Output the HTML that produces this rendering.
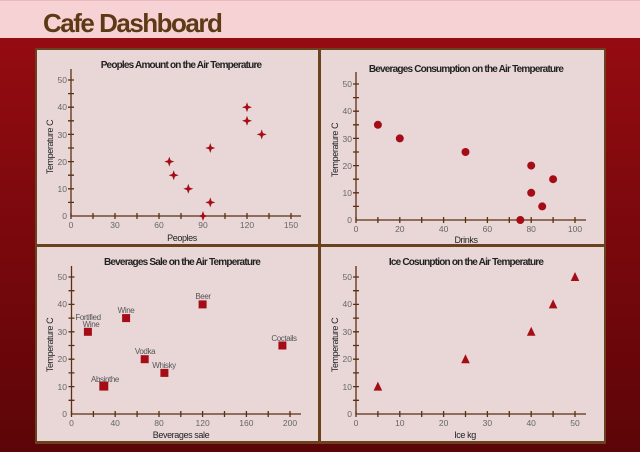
<!DOCTYPE html>
<html><head><meta charset="utf-8"><style>
html,body{margin:0;padding:0;width:640px;height:452px;overflow:hidden}
body{background:#7a0a0e;font-family:"Liberation Sans",sans-serif}
</style></head><body>
<svg width="640" height="452" viewBox="0 0 640 452" xmlns="http://www.w3.org/2000/svg" style="position:absolute;left:0;top:0">
<defs><linearGradient id="bg" x1="0" y1="0" x2="0" y2="1"><stop offset="0" stop-color="#9a0c12"/><stop offset="1" stop-color="#5c0508"/></linearGradient></defs>
<rect x="0" y="0" width="640" height="452" fill="url(#bg)"/>
<rect x="0" y="0" width="640" height="38" fill="#f7d2d4"/>
<rect x="0" y="0" width="640" height="1" fill="#e9b9bc"/>
<text x="43" y="32" font-size="26" font-weight="bold" fill="#5c3a16" letter-spacing="-1.5">Cafe Dashboard</text>
<rect x="35" y="48" width="571" height="396" fill="#6a4220"/>
<rect x="37" y="50" width="281" height="194" fill="#e9d7d8"/>
<rect x="321" y="50" width="283" height="194" fill="#e9d7d8"/>
<rect x="37" y="247" width="281" height="194" fill="#e9d7d8"/>
<rect x="321" y="247" width="283" height="194" fill="#e9d7d8"/>
<g font-size="10" font-weight="bold" fill="#222" text-anchor="middle" letter-spacing="-0.8">
<text x="181" y="68">Peoples Amount on the Air Temperature</text>
<text x="466" y="72">Beverages Consumption on the Air Temperature</text>
<text x="182" y="265">Beverages Sale on the Air Temperature</text>
<text x="466" y="265">Ice Cosunption on the Air Temperature</text>
</g>
<g font-size="9" fill="#222" text-anchor="middle" letter-spacing="-0.4">
<text x="182" y="241">Peoples</text>
<text x="466" y="243">Drinks</text>
<text x="181" y="438">Beverages sale</text>
<text x="465" y="438">Ice kg</text>
<text transform="translate(53,147) rotate(-90)">Temperature C</text>
<text transform="translate(338,150) rotate(-90)">Temperature C</text>
<text transform="translate(53,345) rotate(-90)">Temperature C</text>
<text transform="translate(338,345) rotate(-90)">Temperature C</text>
</g>
<g stroke="#5a3010" stroke-width="1.3" fill="none">
<path d="M71 69V216H301"/>
<path d="M68 80H74M68 93.6H74M68 107.2H74M68 120.8H74M68 134.4H74M68 148H74M68 161.6H74M68 175.2H74M68 188.8H74M68 202.4H74"/>
<path d="M71 213V219M93 213V219M115 213V219M137 213V219M159 213V219M181 213V219M203 213V219M225 213V219M247 213V219M269 213V219M291 213V219"/>
<path d="M356 72V220H586"/>
<path d="M353 84H359M353 97.6H359M353 111.2H359M353 124.8H359M353 138.4H359M353 152H359M353 165.6H359M353 179.2H359M353 192.8H359M353 206.4H359"/>
<path d="M356 217V223M377.9 217V223M399.8 217V223M421.7 217V223M443.6 217V223M465.5 217V223M487.4 217V223M509.3 217V223M531.2 217V223M553.1 217V223M575 217V223"/>
<path d="M71.5 266V414H301"/>
<path d="M68.5 277H74.5M68.5 290.7H74.5M68.5 304.4H74.5M68.5 318.1H74.5M68.5 331.8H74.5M68.5 345.5H74.5M68.5 359.2H74.5M68.5 372.9H74.5M68.5 386.6H74.5M68.5 400.3H74.5"/>
<path d="M71.5 411V417M93.4 411V417M115.2 411V417M137.1 411V417M159 411V417M180.8 411V417M202.6 411V417M224.5 411V417M246.4 411V417M268.2 411V417M290 411V417"/>
<path d="M356 266V414H586"/>
<path d="M353 277H359M353 290.7H359M353 304.4H359M353 318.1H359M353 331.8H359M353 345.5H359M353 359.2H359M353 372.9H359M353 386.6H359M353 400.3H359"/>
<path d="M356 411V417M377.9 411V417M399.8 411V417M421.7 411V417M443.6 411V417M465.5 411V417M487.4 411V417M509.3 411V417M531.2 411V417M553.1 411V417M575 411V417"/>
</g>
<g font-size="8.5" fill="#666" text-anchor="end">
<text x="67" y="83">50</text><text x="67" y="110">40</text><text x="67" y="138">30</text><text x="67" y="165">20</text><text x="67" y="192">10</text><text x="67" y="219">0</text>
<text x="352" y="87">50</text><text x="352" y="114">40</text><text x="352" y="142">30</text><text x="352" y="169">20</text><text x="352" y="196">10</text><text x="352" y="223">0</text>
<text x="67" y="280">50</text><text x="67" y="307">40</text><text x="67" y="335">30</text><text x="67" y="362">20</text><text x="67" y="390">10</text><text x="67" y="417">0</text>
<text x="352" y="280">50</text><text x="352" y="307">40</text><text x="352" y="335">30</text><text x="352" y="362">20</text><text x="352" y="390">10</text><text x="352" y="417">0</text>
</g>
<g font-size="8.5" fill="#666" text-anchor="middle">
<text x="71" y="228">0</text><text x="115" y="228">30</text><text x="159" y="228">60</text><text x="203" y="228">90</text><text x="247" y="228">120</text><text x="291" y="228">150</text>
<text x="356" y="232">0</text><text x="399.8" y="232">20</text><text x="443.6" y="232">40</text><text x="487.4" y="232">60</text><text x="531.2" y="232">80</text><text x="575" y="232">100</text>
<text x="71.5" y="426">0</text><text x="115.2" y="426">40</text><text x="159" y="426">80</text><text x="202.6" y="426">120</text><text x="246.4" y="426">160</text><text x="290" y="426">200</text>
<text x="356" y="426">0</text><text x="399.8" y="426">10</text><text x="443.6" y="426">20</text><text x="487.4" y="426">30</text><text x="531.2" y="426">40</text><text x="575" y="426">50</text>
</g>
<defs><path id="st" d="M0 -5L1.3 -1.3L5 0L1.3 1.3L0 5L-1.3 1.3L-5 0L-1.3 -1.3Z" fill="#a50d16"/></defs>
<use href="#st" x="169.3" y="161.6"/><use href="#st" x="173.7" y="175.2"/><use href="#st" x="188.3" y="188.8"/>
<use href="#st" x="210.3" y="148"/><use href="#st" x="210.3" y="202.4"/><use href="#st" x="203" y="216"/>
<use href="#st" x="247" y="107.2"/><use href="#st" x="247" y="120.8"/><use href="#st" x="261.7" y="134.4"/>
<g fill="#a50d16">
<circle cx="377.9" cy="124.8" r="4"/><circle cx="399.8" cy="138.4" r="4"/><circle cx="465.5" cy="152" r="4"/>
<circle cx="531.2" cy="165.6" r="4"/><circle cx="531.2" cy="192.8" r="4"/><circle cx="553.1" cy="179.2" r="4"/>
<circle cx="542.2" cy="206.4" r="4"/><circle cx="520.3" cy="220" r="4"/>
<rect x="83.9" y="327.8" width="8" height="8"/><rect x="122.1" y="314.1" width="8" height="8"/>
<rect x="198.6" y="300.4" width="8" height="8"/><rect x="140.7" y="355.2" width="8" height="8"/>
<rect x="160.4" y="368.9" width="8" height="8"/><rect x="99.3" y="381.6" width="9" height="9"/>
<rect x="278.4" y="341.5" width="8" height="8"/>
<path d="M377.9 381.6L382.2 390.6H373.6Z"/><path d="M465.5 354.2L469.8 363.2H461.2Z"/>
<path d="M531.2 326.8L535.5 335.8H526.9Z"/><path d="M553.1 299.4L557.4 308.4H548.8Z"/>
<path d="M575 272L579.3 281H570.7Z"/>
</g>
<g font-size="8" fill="#555" text-anchor="middle" letter-spacing="-0.4">
<text x="88" y="320">Fortified</text><text x="91" y="327">Wine</text>
<text x="126" y="313">Wine</text><text x="203" y="299">Beer</text>
<text x="145" y="354">Vodka</text><text x="164" y="368">Whisky</text>
<text x="105" y="382">Absinthe</text><text x="284" y="341">Coctails</text>
</g>
</svg>
</body></html>
